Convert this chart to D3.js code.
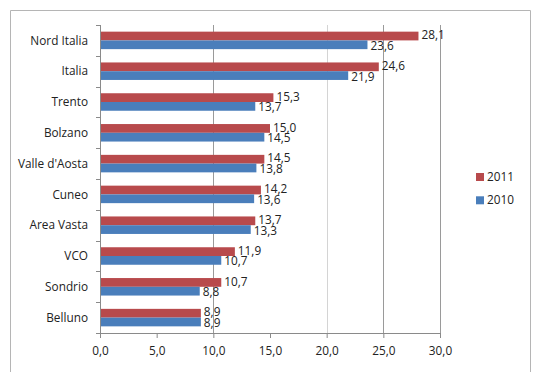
<!DOCTYPE html>
<html lang="it">
<head>
    <meta charset="UTF-8">
    <script src="https://d3js.org/d3.v7.min.js" charset="utf-8"></script>
    <title>Confronto 2010 - 2011</title>
    <style>
        body { margin: 0; background: #fff; }
        text { font-family: "Open Sans", Lato, sans-serif; fill: #222; }
    </style>
</head>
<body>
    <div class="chart"></div>
    <script>
        const width = 547;
        const height = 382;

        // categories top to bottom
        const categories = ["Nord Italia", "Italia", "Trento", "Bolzano", "Valle d'Aosta",
                            "Cuneo", "Area Vasta", "VCO", "Sondrio", "Belluno"];
        const series = ["2011", "2010"];
        const values2011 = [28.1, 24.6, 15.3, 15.0, 14.5, 14.2, 13.7, 11.9, 10.7, 8.9];
        const values2010 = [23.6, 21.9, 13.7, 14.5, 13.8, 13.6, 13.3, 10.7, 8.8, 8.9];
        const xTicks = [0, 5, 10, 15, 20, 25, 30];
        const gridValues = [10, 20, 25, 30];

        const colors = { "2011": "#B84A4C", "2010": "#4A7EBB" };
        const fmt = v => d3.format(".1f")(v).replace(".", ",");
        const fontSize = 11.8;

        const margin = { top: 25, left: 100, right: 107, bottom: 49 };

        const svg = d3.select(".chart").append("svg")
            .attr("width", width)
            .attr("height", height);

        // outer frame (bottom edge falls outside the picture)
        svg.append("path")
            .attr("d", "M10.5,372 L10.5,10.5 L530.5,10.5 L530.5,372")
            .attr("fill", "none")
            .attr("stroke", "#b5b5b5");

        const x = d3.scaleLinear()
            .domain([0, 30])
            .range([margin.left, width - margin.right]);

        const y = d3.scaleBand()
            .domain(categories)
            .range([margin.top, height - margin.bottom])
            .padding(0);

        const y1 = d3.scaleBand()
            .domain(series)
            .range([0, y.bandwidth()])
            .paddingInner(0)
            .paddingOuter(0.76);

        // gridlines
        svg.append("g")
            .selectAll("line")
            .data(gridValues)
            .join("line")
            .attr("x1", d => Math.round(x(d)) + 0.5)
            .attr("x2", d => Math.round(x(d)) + 0.5)
            .attr("y1", margin.top)
            .attr("y2", height - margin.bottom)
            .attr("stroke", d => d === 20 ? "#d4d4d4" : "#9a9a9a");

        const rows = categories.map((c, i) => ({ cat: c, "2011": values2011[i], "2010": values2010[i] }));

        const group = svg.append("g")
            .selectAll("g")
            .data(rows)
            .join("g")
            .attr("transform", d => `translate(0,${y(d.cat)})`);

        group.selectAll("rect")
            .data(d => series.map(s => ({ key: s, value: d[s] })))
            .join("rect")
            .attr("x", x(0) + 1)
            .attr("y", d => y1(d.key))
            .attr("width", d => x(d.value) - x(0) - 1)
            .attr("height", y1.bandwidth())
            .attr("fill", d => colors[d.key]);

        group.selectAll("text")
            .data(d => series.map(s => ({ key: s, value: d[s] })))
            .join("text")
            .attr("x", d => x(d.value) + 3)
            .attr("y", d => y1(d.key) + y1.bandwidth() / 2 + (d.key === "2011" ? -1 : 1))
            .attr("dy", "0.35em")
            .attr("font-size", fontSize)
            .text(d => fmt(d.value));

        // x axis
        const xAxis = svg.append("g")
            .attr("transform", `translate(0,${height - margin.bottom})`)
            .call(d3.axisBottom(x).tickValues(xTicks).tickFormat(fmt).tickSize(5).tickPadding(9));
        xAxis.select(".domain").attr("stroke", "#8a8a8a");
        xAxis.selectAll(".tick line").attr("stroke", "#8a8a8a");
        xAxis.selectAll("text").attr("font-size", fontSize).attr("fill", "#222");

        // y axis with ticks at band boundaries
        const yAxis = svg.append("g")
            .attr("transform", `translate(${margin.left},0)`);
        yAxis.append("line")
            .attr("x1", 0.5).attr("x2", 0.5)
            .attr("y1", margin.top).attr("y2", height - margin.bottom)
            .attr("stroke", "#8a8a8a");
        yAxis.selectAll(".ytick")
            .data(categories.concat(["__end"]))
            .join("line")
            .attr("class", "ytick")
            .attr("x1", -4).attr("x2", 0)
            .attr("y1", (d, i) => Math.round(y.range()[0] + i * y.step()) + 0.5)
            .attr("y2", (d, i) => Math.round(y.range()[0] + i * y.step()) + 0.5)
            .attr("stroke", "#8a8a8a");
        yAxis.selectAll(".ylabel")
            .data(categories)
            .join("text")
            .attr("class", "ylabel")
            .attr("x", -12)
            .attr("y", d => y(d) + y.bandwidth() / 2)
            .attr("dy", "0.35em")
            .attr("text-anchor", "end")
            .attr("font-size", fontSize)
            .text(d => d);

        // legend
        const legend = svg.append("g")
            .attr("transform", "translate(476,173)");
        const item = legend.selectAll("g")
            .data(series)
            .join("g")
            .attr("transform", (d, i) => `translate(0,${i * 23.3})`);
        item.append("rect")
            .attr("width", 8).attr("height", 8)
            .attr("fill", d => colors[d]);
        item.append("text")
            .attr("x", 11).attr("y", 4)
            .attr("dy", "0.35em")
            .attr("font-size", fontSize)
            .text(d => d);
    </script>
</body>
</html>
